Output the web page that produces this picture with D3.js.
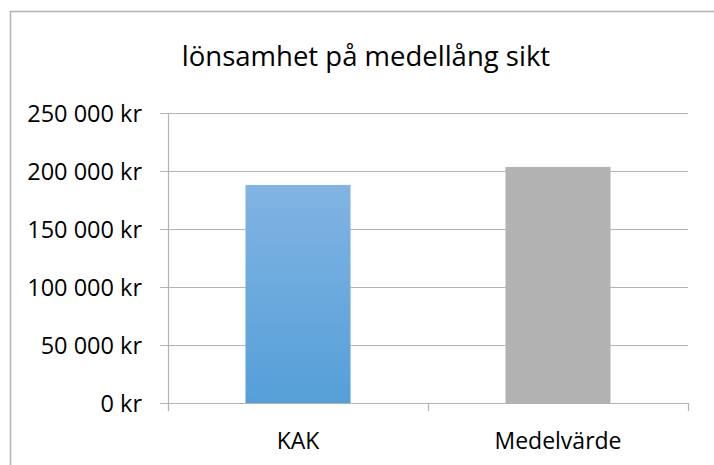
<!DOCTYPE html>
<html lang="sv">
<head>
<meta charset="utf-8">
<title>lönsamhet på medellång sikt</title>
<script src="https://cdn.jsdelivr.net/npm/d3@7"></script>
<style>
  body { margin: 0; background: #fff; }
  svg text { font-family: "Open Sans", "Noto Sans", sans-serif; fill: #000; }
</style>
</head>
<body>
<script>
// data
var categories = ["KAK", "Medelvärde"];
var values = [188000, 203500];
var barColors = ["url(#kakGrad)", "#b2b2b2"];
var yTicks = [0, 50000, 100000, 150000, 200000, 250000];
var title = "lönsamhet på medellång sikt";

var w = 714, h = 465;
var margin = {top: 113, right: 26, bottom: 62, left: 168};
var innerW = w - margin.left - margin.right;
var innerH = h - margin.top - margin.bottom;

var svg = d3.select("body").append("svg")
  .attr("width", w)
  .attr("height", h);

var defs = svg.append("defs");
var grad = defs.append("linearGradient")
  .attr("id", "kakGrad")
  .attr("x1", 0).attr("y1", 0).attr("x2", 0).attr("y2", 1);
grad.append("stop").attr("offset", "0%").attr("stop-color", "#81b4e3");
grad.append("stop").attr("offset", "100%").attr("stop-color", "#559fd8");

// outer chart frame (runs past the window on right and bottom)
svg.append("rect")
  .attr("x", 10.5).attr("y", 11.5)
  .attr("width", 730).attr("height", 480)
  .attr("fill", "none")
  .attr("stroke", "#b4b4b4")
  .attr("stroke-width", 1.5);

svg.append("text")
  .attr("x", 366)
  .attr("y", 66)
  .attr("text-anchor", "middle")
  .attr("font-size", "27.5px")
  .text(title);

var locale = d3.formatLocale({decimal: ",", thousands: " ", grouping: [3], currency: ["", " kr"]});
var fmt = locale.format("$,");

var x = d3.scaleBand()
  .domain(categories)
  .range([0, innerW])
  .paddingInner(0.596)
  .paddingOuter(0.298);

var y = d3.scaleLinear()
  .domain([0, 250000])
  .range([innerH, 0]);

var g = svg.append("g")
  .attr("transform", "translate(" + margin.left + "," + margin.top + ")");

// gridlines, with the small outside tick
g.selectAll("line.grid")
  .data(yTicks)
  .enter()
  .append("line")
  .attr("class", "grid")
  .attr("x1", -8)
  .attr("x2", innerW)
  .attr("y1", function(d){ return Math.round(y(d)) + 0.5; })
  .attr("y2", function(d){ return Math.round(y(d)) + 0.5; })
  .attr("stroke", "#b3b3b3")
  .attr("stroke-width", 1.2);

// y axis labels
var yAxis = d3.axisLeft(y)
  .tickValues(yTicks)
  .tickFormat(fmt)
  .tickSize(0)
  .tickPadding(26);
var ya = g.append("g").call(yAxis);
ya.select(".domain").remove();
ya.selectAll("text")
  .attr("font-size", "23.5px")
  .attr("font-family", null)
  .attr("dy", "0.35em");

// bars
g.selectAll("rect.bar")
  .data(values)
  .enter()
  .append("rect")
  .attr("class", "bar")
  .attr("x", function(d, i){ return x(categories[i]); })
  .attr("width", x.bandwidth())
  .attr("y", function(d){ return y(d); })
  .attr("height", function(d){ return innerH - y(d); })
  .attr("fill", function(d, i){ return barColors[i]; });

// axis lines
g.append("line")
  .attr("x1", 0.5).attr("x2", 0.5)
  .attr("y1", 0).attr("y2", innerH + 8)
  .attr("stroke", "#b3b3b3")
  .attr("stroke-width", 1.2);

var xTickPos = [0].concat(categories.map(function(c){ return x(c) - x.step() * x.paddingInner() / 2 + x.step(); }));
g.selectAll("line.xtick")
  .data(xTickPos)
  .enter()
  .append("line")
  .attr("class", "xtick")
  .attr("x1", function(d){ return Math.round(d) + 0.5; })
  .attr("x2", function(d){ return Math.round(d) + 0.5; })
  .attr("y1", innerH)
  .attr("y2", innerH + 8)
  .attr("stroke", "#b3b3b3")
  .attr("stroke-width", 1.2);

var xAxis = d3.axisBottom(x).tickSize(0).tickPadding(30);
var xa = g.append("g")
  .attr("transform", "translate(0," + innerH + ")")
  .call(xAxis);
xa.select(".domain").remove();
xa.selectAll("text")
  .attr("font-size", "23px")
  .attr("font-family", null);
</script>
</body>
</html>
